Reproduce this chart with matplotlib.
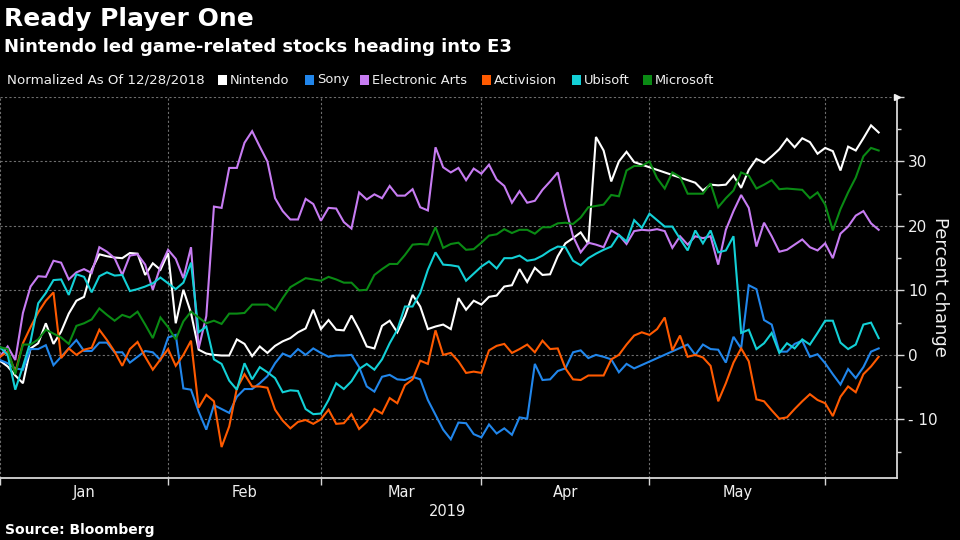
import numpy as np
import pandas as pd
import matplotlib
matplotlib.use("Agg")
import matplotlib.pyplot as plt
from matplotlib.patches import Rectangle

nan = np.nan

# ---- data: percent change, normalized as of 12/28/2018, one value per weekday from 2019-01-02 ----
nintendo = [-0.9, -1.8, -3.2, -4.4, 1.0, 1.8, 4.9, 1.7, 3.6, 6.4, 8.4, 9.0, 13.2, 15.6, 15.3, 15.1, 15.0, 15.8,
            15.7, 12.4, 14.2, 13.2, 15.8, 4.9, 10.1, 6.5, 0.8, 0.2, 0.0, -0.1, -0.1, 2.4, 1.7, -0.2, 1.3, 0.3,
            1.4, 2.1, 2.6, 3.5, 4.1, 7.0,
            4.0, 5.4, 3.9, 3.8, 6.1, 3.9, 1.3, 1.0, 4.5, 5.3, 3.5, 6.0, 9.3, 7.5, 4.0, 4.4, 4.7, 4.0, 8.8, 7.0,
            8.4, 7.8, 9.0, 9.2, 10.6, 10.8, 13.3, 11.3, 13.5, 12.4, 12.5, 15.3, 17.3, 18.1, 19.0, 17.2, 33.8,
            31.7, 26.9, 30.0,
            31.5, 29.9, nan, nan, nan, nan, nan, nan, 27.1, 26.7, 25.5, 26.4, 26.3, 26.4, 27.8, 25.9, 28.7, 30.4,
            29.8, 30.8, 31.9, 33.5, 32.2, 33.6, 33.0, 31.2, 32.1, 31.6, 28.6, 32.3, 31.7, 33.6, 35.6, 34.5]
sony = [-0.8, -1.3, -2.1, -2.3, 0.9, 0.9, 1.5, -1.6, -0.3, 1.0, 2.3, 0.6, 0.6, 1.9, 1.9, 0.4, 0.4, -1.2, -0.3,
        0.6, 0.4, -0.8, 2.7, 3.1, -5.2, -5.4, -8.8, -11.6, -7.8, -8.4, -9.0, -6.5, -5.3, -5.3, -4.4, -3.3, -1.3,
        0.2, -0.3, 0.9, 0.0, 1.0,
        0.3, -0.3, -0.1, -0.1, 0.0, -1.9, -4.9, -5.7, -3.4, -3.1, -3.8, -3.9, -3.4, -3.8, -7.0, -9.3, -11.6,
        -13.1, -10.5, -10.6, -12.3, -12.8, -10.8, -12.2, -11.4, -12.4, -9.7, -9.9, -1.4, -3.9, -3.8, -2.5, -2.1,
        0.4, 0.7, -0.5, 0.0, -0.3, -0.7, -2.7,
        -1.4, -2.1, nan, nan, nan, nan, nan, nan, 1.6, 0.0, 1.6, 0.9, 0.8, -1.2, 2.8, 1.0, 10.8, 10.2, 5.4, 4.7,
        0.5, 0.5, 1.7, 2.2, -0.3, 0.1, -1.3, -3.0, -4.6, -2.2, -3.6, -1.9, 0.5, 1.0]
electronic_arts = [-0.3, 1.3, -0.8, 6.5, 10.6, 12.2, 12.1, 14.6, 14.3, 11.7, 12.8, 13.3, 12.7, 16.7, 16.0, 15.0,
                   12.4, 15.4, 15.6, 14.0, 10.1, 13.7, 16.3, 14.9, 11.9, 16.7, 1.0, 6.0, 23.0, 22.8, 29.0, 29.0,
                   32.9, 34.7, 32.3, 30.0, 24.3, 22.3, 21.0, 21.0, 24.2, 23.4,
                   20.8, 22.8, 22.7, 20.6, 19.6, 25.2, 24.1, 24.9, 24.3, 26.2, 24.7, 24.7, 25.7, 22.9, 22.4, 32.2,
                   29.1, 28.3, 29.0, 27.1, 28.9, 28.1, 29.5, 27.2, 26.2, 23.6, 25.4, 23.6, 23.9, 25.6, 26.9, 28.3,
                   23.0, 18.4, 15.9, 17.4, 17.1, 16.7, 19.3, 18.6,
                   17.2, 19.2, 19.4, 19.3, 19.5, 19.2, 16.6, 18.4, 17.1, 18.4, 18.1, 18.4, 14.0, 19.4, 22.3, 24.8,
                   22.8, 16.8, 20.5, 18.4, 16.0, 16.3, 17.1, 17.9, 16.7, 16.2, 17.3, 15.0, 18.8, 19.9, 21.6, 22.3,
                   20.4, 19.4]
activision = [-0.3, 0.5, -2.7, 1.8, 4.3, 6.6, 8.4, 9.7, -0.5, 1.0, 0.0, 0.8, 1.1, 3.9, 2.3, 0.5, -1.7, 0.9, 2.0,
              -0.3, -2.3, -0.7, 0.9, -1.7, 0.0, 2.2, -8.2, -6.2, -7.2, -14.3, -11.1, -5.2, -3.0, -4.9, -4.9, -5.1,
              -8.5, -10.2, -11.4, -10.4, -10.1, -10.7,
              -10.0, -8.5, -10.7, -10.6, -9.2, -11.5, -10.4, -8.4, -9.1, -6.7, -7.5, -4.7, -3.8, -0.9, -1.4, 3.8,
              0.0, 0.3, -1.0, -2.8, -2.6, -2.8, 0.7, 1.4, 1.7, 0.3, 0.9, 1.6, 0.4, 2.2, 0.9, 1.0, -2.1, -3.8,
              -3.9, -3.2, -3.2, -3.2, -0.7, 0.0,
              1.6, 3.0, 3.5, 3.1, 4.0, 5.8, 0.7, 3.0, -0.3, 0.0, -0.4, -1.7, -7.2, -4.4, -1.2, 1.0, -1.0, -6.9,
              -7.2, -8.6, -9.9, -9.7, -8.4, -7.2, -6.1, -7.0, -7.5, -9.5, -6.5, -4.9, -5.8, -3.0, -1.8, -0.3]
ubisoft = [1.2, 0.0, -5.4, -1.8, 2.1, 8.0, 9.6, 11.6, 11.7, 9.3, 12.5, 12.1, 9.7, 12.2, 12.8, 12.3, 12.4, 9.9,
           10.2, 10.6, 11.1, 12.0, 11.1, 10.2, 11.2, 14.3, 3.5, 4.4, -0.7, -1.4, -4.0, -5.4, -1.3, -3.8, -1.9,
           -2.7, -3.6, -5.8, -5.5, -5.6, -8.4, -9.2,
           -9.1, -7.0, -4.4, -5.3, -4.1, -2.2, -1.4, -2.3, -0.7, 1.8, 3.9, 7.5, 7.5, 9.6, 13.2, 15.9, 14.0, 13.9,
           13.7, 11.5, 12.6, 13.7, 14.5, 13.4, 15.0, 15.0, 15.4, 14.6, 14.8, 15.4, 16.2, 16.8, 16.7, 14.6, 13.9,
           15.0, 15.7, 16.3, 16.8, 18.6,
           17.6, 20.9, 19.7, 21.9, 20.9, 19.9, 19.9, 18.0, 16.2, 19.3, 17.3, 19.3, 15.9, 16.2, 18.4, 3.4, 3.9,
           0.9, 1.8, 3.4, 0.3, 1.8, 1.0, 2.4, 1.6, 3.4, 5.3, 5.3, 1.9, 0.9, 1.6, 4.7, 5.0, 2.6]
microsoft = [1.2, 0.9, -3.0, 1.6, 1.6, 2.4, 3.9, 3.3, 2.7, 1.7, 4.5, 4.9, 5.5, 7.2, 6.2, 5.3, 6.2, 5.8, 6.7, 4.7,
             2.6, 5.8, 4.3, 2.4, 5.2, 6.7, 5.8, 4.9, 5.3, 4.8, 6.4, 6.4, 6.5, 7.8, 7.8, 7.8, 6.9, 8.8, 10.5, 11.2,
             11.9, 11.7,
             11.5, 12.1, 11.7, 11.2, 11.2, 10.0, 10.1, 12.4, 13.3, 14.1, 14.1, 15.5, 17.1, 17.2, 17.1, 19.8, 16.6,
             17.2, 17.4, 16.3, 16.4, 17.4, 18.5, 18.7, 19.5, 18.9, 19.4, 19.4, 18.8, 19.8, 19.8, 20.4, 20.5, 20.3,
             21.3, 22.9, 23.1, 23.3, 24.8, 24.6,
             28.6, 29.3, 29.3, 30.0, 27.4, 25.8, 28.3, 27.6, 25.0, 25.0, 25.0, 26.6, 22.9, 24.3, 25.5, 28.3, 27.8,
             25.8, 26.4, 27.1, 25.7, 25.8, 25.7, 25.6, 24.3, 25.2, 23.3, 19.3, 22.6, 25.2, 27.5, 30.8, 32.1, 31.7]

series_names = ["Nintendo", "Sony", "Electronic Arts", "Activision", "Ubisoft", "Microsoft"]
series_values = [nintendo, sony, electronic_arts, activision, ubisoft, microsoft]
series_colors = ["#ffffff", "#2186eb", "#c77cf2", "#ff5a00", "#13d0d6", "#0a8a14"]
month_labels = ["Jan", "Feb", "Mar", "Apr", "May"]
y_ticks = [-10, 0, 10, 20, 30]
y_minor = [-15, -5, 5, 15, 25, 35]
y_grid = [-10, 0, 10, 20, 30, 40]

dates = pd.bdate_range("2019-01-02", periods=len(nintendo))
month_idx = dates.month.values
bounds = [0] + [i for i in range(1, len(dates)) if month_idx[i] != month_idx[i - 1]]
centers = [(bounds[k] + bounds[k + 1]) / 2 for k in range(len(month_labels))]

# ---- figure ----
fig = plt.figure(figsize=(9.6, 5.4), dpi=100, facecolor="black")
ax = fig.add_axes([0, 62 / 540, 897 / 960, 381 / 540])
ax.set_facecolor("black")

x = np.arange(len(nintendo))
for vals, col in zip(series_values, series_colors):
    v = np.asarray(vals, dtype=float)
    m = ~np.isnan(v)
    ax.plot(x[m], v[m], color=col, lw=1.5, solid_joinstyle="miter", zorder=3)

ax.set_xlim(0, 117.4)
ax.set_ylim(-19.1, 40)

grid_kw = dict(color="#6e6e6e", lw=0.8, ls=(0, (2, 2)), zorder=1)
for b in bounds:
    ax.axvline(b, **grid_kw)
for g in y_grid:
    ax.axhline(g, **grid_kw)

for s in ["top", "left"]:
    ax.spines[s].set_visible(False)
for s in ["right", "bottom"]:
    ax.spines[s].set_color("#d8d8d8")
    ax.spines[s].set_linewidth(1.3)

# x axis
ax.set_xticks(bounds)
ax.set_xticklabels([])
ax.set_xticks(centers, minor=True)
ax.set_xticklabels(month_labels, minor=True)
ax.tick_params(axis="x", which="major", length=5, width=1, color="#d8d8d8", direction="out")
ax.tick_params(axis="x", which="minor", length=0, pad=5, labelsize=10.5, labelcolor="#f0f0f0")

# y axis on the right
ax.yaxis.tick_right()
ax.set_yticks(y_ticks + [40])
ax.set_yticklabels([("- %d" % abs(t)) if t < 0 else str(t) for t in y_ticks] + [""])
ax.set_yticks(y_minor, minor=True)
ax.tick_params(axis="y", which="major", length=5, width=1, color="#d8d8d8", pad=3,
               labelsize=11, labelcolor="#f0f0f0")
ax.tick_params(axis="y", which="minor", length=3, width=1, color="#d8d8d8")

# small flag at the top of the value axis
ax.plot([1.0], [40], marker=">", ms=5, color="#f0f0f0", transform=ax.get_yaxis_transform(),
        clip_on=False, zorder=5)

fig.text(940 / 960, 1 - 287 / 540, "Percent change", rotation=-90, ha="center", va="center",
         color="#f0f0f0", fontsize=13)
fig.text(448 / 960, 1 - 511 / 540, "2019", ha="center", va="center", color="#f0f0f0", fontsize=10.5)

# titles
fig.text(4 / 960, 1 - 19 / 540, "Ready Player One", ha="left", va="center", color="white",
         fontsize=18, fontweight="bold")
fig.text(4 / 960, 1 - 47 / 540, "Nintendo led game-related stocks heading into E3", ha="left",
         va="center", color="white", fontsize=13, fontweight="bold")
fig.text(5 / 960, 1 - 530 / 540, "Source: Bloomberg", ha="left", va="center", color="white",
         fontsize=10, fontweight="bold")

# legend row
ly = 1 - 80 / 540
fig.text(7 / 960, ly, "Normalized As Of 12/28/2018", ha="left", va="center", color="#f0f0f0", fontsize=9.6)
sq_x = [218, 305, 360, 482, 572, 643]
for px, name, col in zip(sq_x, series_names, series_colors):
    fig.patches.append(Rectangle((px / 960, ly - 4.5 / 540), 9 / 960, 9 / 540, transform=fig.transFigure,
                                 facecolor=col, edgecolor="none"))
    fig.text((px + 12) / 960, ly, name, ha="left", va="center", color="#f0f0f0", fontsize=9.4)

fig.savefig("out.png", dpi=100, facecolor="black")
